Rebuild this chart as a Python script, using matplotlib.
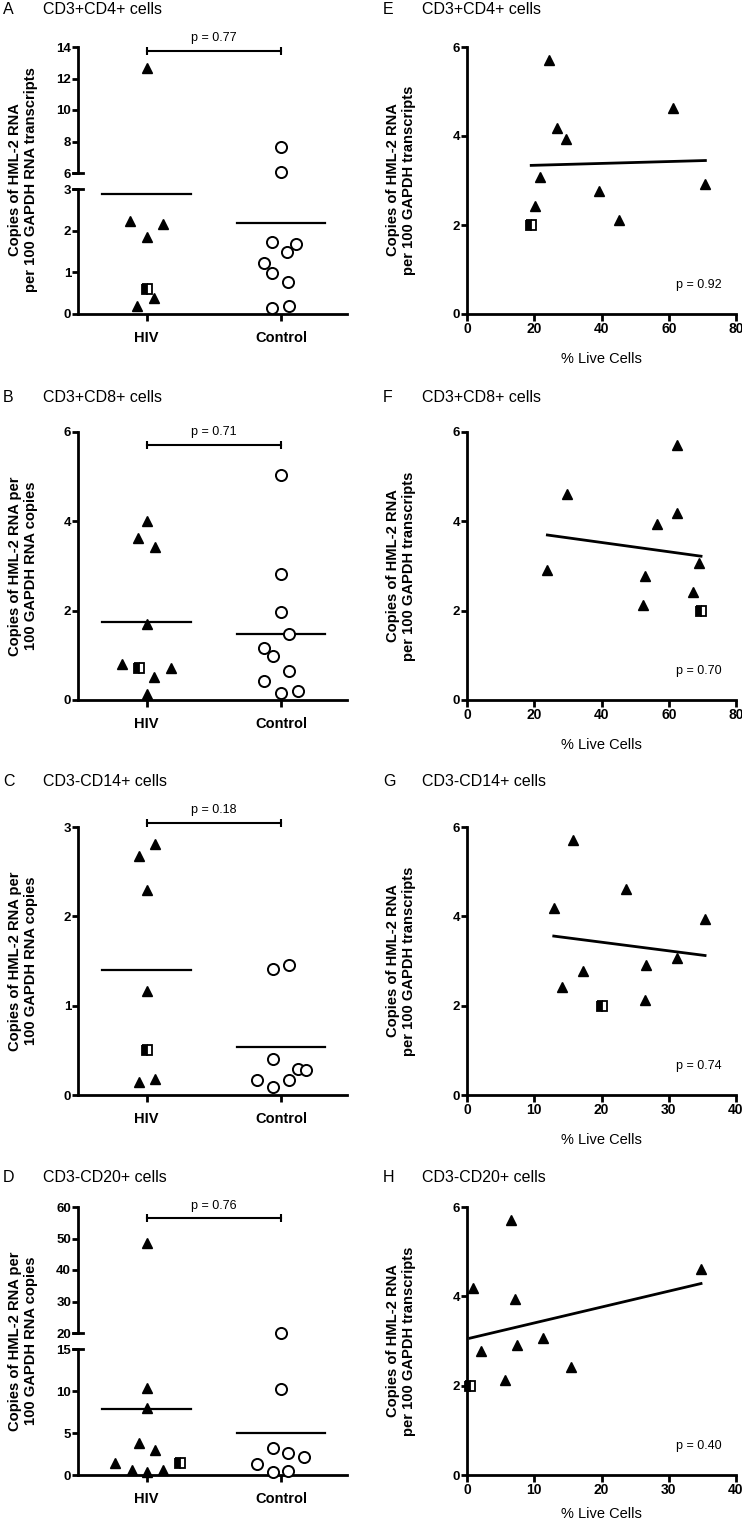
import numpy as np
import matplotlib
matplotlib.use('Agg')
import matplotlib.pyplot as plt

plt.rcParams['font.family'] = ['Liberation Sans', 'DejaVu Sans']
plt.rcParams['font.weight'] = 'bold'

# ---- data: dot plots (HIV vs Control), x offsets are the jitter
groups = ['HIV', 'Control']

a_hiv = [12.67, 2.24, 2.16, 1.86, 0.19, 0.38]
a_hiv_dx = [0, -0.12, 0.12, 0, -0.07, 0.055]
a_sq = [0.61]
a_sq_dx = [0]
a_ctl = [7.68, 6.08, 1.74, 1.68, 1.48, 1.23, 0.98, 0.76, 0.14, 0.19]
a_ctl_dx = [0, 0, -0.067, 0.11, 0.047, -0.13, -0.067, 0.052, -0.067, 0.057]

b_hiv = [4.0, 3.63, 3.43, 1.71, 0.80, 0.72, 0.52, 0.13]
b_hiv_dx = [0, -0.062, 0.062, 0, -0.18, 0.18, 0.057, 0]
b_sq = [0.72]
b_sq_dx = [-0.055]
b_ctl = [5.04, 2.82, 1.96, 1.47, 1.17, 0.98, 0.66, 0.43, 0.15, 0.20]
b_ctl_dx = [0, 0, 0, 0.062, -0.124, -0.062, 0.062, -0.124, 0, 0.124]

c_hiv = [2.81, 2.68, 2.30, 1.16, 0.14, 0.18]
c_hiv_dx = [0.065, -0.06, 0.003, 0.003, -0.06, 0.065]
c_sq = [0.50]
c_sq_dx = [0.003]
c_ctl = [1.41, 1.45, 0.40, 0.29, 0.28, 0.17, 0.17, 0.09]
c_ctl_dx = [-0.057, 0.062, -0.057, 0.122, 0.184, -0.181, 0.06, -0.057]

d_hiv = [48.5, 10.3, 7.94, 3.85, 2.98, 1.47, 0.6, 0.4, 0.6]
d_hiv_dx = [0, 0, 0, -0.057, 0.062, -0.235, -0.111, 0, 0.123]
d_sq = [1.47]
d_sq_dx = [0.25]
d_ctl = [20.0, 10.2, 3.17, 2.58, 2.18, 1.31, 0.32, 0.52]
d_ctl_dx = [0, 0, -0.062, 0.054, 0.173, -0.18, -0.062, 0.054]

bracket_y = [13.75, 5.72, 3.05, 56.4]
p_left = ['p = 0.77', 'p = 0.71', 'p = 0.18', 'p = 0.76']

# ---- data: scatter plots vs % live cells (same HML-2 values in every panel, last one is the square)
hml2 = [5.71, 4.62, 4.18, 3.94, 3.07, 2.92, 2.77, 2.42, 2.12, 2.0]
e_live = [24.4, 61.2, 26.7, 29.5, 21.6, 70.9, 39.4, 20.2, 45.3, 19.1]
f_live = [62.6, 29.8, 62.6, 56.4, 68.9, 23.9, 53.0, 67.1, 52.2, 69.6]
g_live = [15.7, 23.7, 12.9, 35.4, 31.3, 26.6, 17.3, 14.2, 26.5, 20.1]
h_live = [6.6, 34.8, 0.85, 7.2, 11.3, 7.4, 2.1, 15.5, 5.7, 0.45]
p_right = ['p = 0.92', 'p = 0.70', 'p = 0.74', 'p = 0.40']

letters_l = ['A', 'B', 'C', 'D']
letters_r = ['E', 'F', 'G', 'H']
cells = ['CD3+CD4+ cells', 'CD3+CD8+ cells', 'CD3-CD14+ cells', 'CD3-CD20+ cells']

ylab_a = 'Copies of HML-2 RNA\nper 100 GAPDH RNA transcripts'
ylab_bcd = 'Copies of HML-2 RNA per\n100 GAPDH RNA copies'
ylab_r = 'Copies of HML-2 RNA\nper 100 GAPDH transcripts'

W, H = 742, 1522
fig = plt.figure(figsize=(W / 100, H / 100), dpi=100)


def add_ax(l, r, t, b):
    return fig.add_axes([l / W, 1 - b / H, (r - l) / W, (b - t) / H])


def base_style(ax):
    for s in ['top', 'right']:
        ax.spines[s].set_visible(False)
    for s in ['left', 'bottom']:
        ax.spines[s].set_linewidth(2)
    ax.tick_params(width=2, length=4, pad=1)
    ax.tick_params(axis='y', labelsize=9.5)
    ax.patch.set_alpha(0)


def dots(ax, lo, hi, hiv, hiv_dx, sq, sq_dx, ctl, ctl_dx):
    hiv, hiv_dx = np.array(hiv), np.array(hiv_dx)
    sq, sq_dx = np.array(sq), np.array(sq_dx)
    ctl, ctl_dx = np.array(ctl), np.array(ctl_dx)
    m = (hiv >= lo) & (hiv <= hi)
    ax.plot(0 + hiv_dx[m], hiv[m], '^', ms=7.5, color='k', clip_on=False, zorder=3)
    m = (sq >= lo) & (sq <= hi)
    ax.plot(0 + sq_dx[m], sq[m], 's', ms=7.5, color='k', fillstyle='left',
            markerfacecoloralt='white', mew=1.3, clip_on=False, zorder=3)
    m = (ctl >= lo) & (ctl <= hi)
    ax.plot(1 + ctl_dx[m], ctl[m], 'o', ms=8, mfc='white', mec='k', mew=1.4,
            clip_on=False, zorder=3)
    # group means (triangles and square together)
    means = [np.mean(np.concatenate([hiv, sq])), np.mean(ctl)]
    for i, mv in enumerate(means):
        if lo <= mv <= hi:
            ax.plot([i - 0.33, i + 0.33], [mv, mv], color='k', lw=1.6, zorder=2)


def bracket(ax, y, txt):
    ax.plot([0, 1], [y, y], color='k', lw=1.5, clip_on=False)
    ax.plot([0, 1], [y, y], '|', color='k', ms=6, mew=1.5, clip_on=False)
    ax.annotate(txt, (0.5, y), xytext=(0, 9), textcoords='offset points',
                ha='center', va='center', fontsize=9, fontweight='normal',
                annotation_clip=False)


def break_mark(ax, y):
    tr = ax.get_yaxis_transform()
    ax.plot([-0.018, 0.018], [y, y], color='k', lw=2, transform=tr, clip_on=False)


def xcat(ax):
    ax.set_xlim(-0.51, 1.49)
    ax.set_xticks([0, 1])
    ax.set_xticklabels(groups)
    ax.tick_params(axis='x', labelsize=10.5, pad=7, length=5)


# ---- left column
dot_data = [(a_hiv, a_hiv_dx, a_sq, a_sq_dx, a_ctl, a_ctl_dx),
            (b_hiv, b_hiv_dx, b_sq, b_sq_dx, b_ctl, b_ctl_dx),
            (c_hiv, c_hiv_dx, c_sq, c_sq_dx, c_ctl, c_ctl_dx),
            (d_hiv, d_hiv_dx, d_sq, d_sq_dx, d_ctl, d_ctl_dx)]

# A: broken axis 0-3 / 6-14
lo = add_ax(78, 347, 189, 314)
up = add_ax(78, 347, 47, 173)
for ax in (lo, up):
    base_style(ax)
    xcat(ax)
lo.set_ylim(0, 3)
lo.set_yticks([0, 1, 2, 3])
up.set_ylim(6, 14)
up.set_yticks([6, 8, 10, 12, 14])
up.spines['bottom'].set_visible(False)
up.tick_params(axis='x', bottom=False, labelbottom=False)
dots(lo, 0, 3, *dot_data[0])
dots(up, 3.0001, 14, *dot_data[0])
break_mark(lo, 3)
break_mark(up, 6)
bracket(up, bracket_y[0], p_left[0])

# B
ax = add_ax(78, 347, 432, 700)
base_style(ax)
xcat(ax)
ax.set_ylim(0, 6)
ax.set_yticks([0, 2, 4, 6])
dots(ax, 0, 6, *dot_data[1])
bracket(ax, bracket_y[1], p_left[1])

# C
ax = add_ax(78, 347, 827, 1095)
base_style(ax)
xcat(ax)
ax.set_ylim(0, 3)
ax.set_yticks([0, 1, 2, 3])
dots(ax, 0, 3, *dot_data[2])
bracket(ax, bracket_y[2], p_left[2])

# D: broken axis 0-15 / 20-60
lo = add_ax(78, 347, 1349, 1475)
up = add_ax(78, 347, 1207, 1333)
for ax in (lo, up):
    base_style(ax)
    xcat(ax)
lo.set_ylim(0, 15)
lo.set_yticks([0, 5, 10, 15])
up.set_ylim(20, 60)
up.set_yticks([20, 30, 40, 50, 60])
up.spines['bottom'].set_visible(False)
up.tick_params(axis='x', bottom=False, labelbottom=False)
dots(lo, 0, 15, *dot_data[3])
dots(up, 15.0001, 60, *dot_data[3])
break_mark(lo, 15)
break_mark(up, 20)
bracket(up, bracket_y[3], p_left[3])

# ---- right column
live = [e_live, f_live, g_live, h_live]
xmax = [80, 80, 40, 40]
rows = [(47, 314), (432, 700), (827, 1095), (1207, 1475)]
for i in range(4):
    t, b = rows[i]
    ax = add_ax(467, 736, t, b)
    base_style(ax)
    x = np.array(live[i])
    y = np.array(hml2)
    ax.plot(x[:-1], y[:-1], '^', ms=7.5, color='k', clip_on=False, zorder=3)
    ax.plot(x[-1:], y[-1:], 's', ms=7.5, color='k', fillstyle='left',
            markerfacecoloralt='white', mew=1.3, clip_on=False, zorder=3)
    k, c0 = np.polyfit(x, y, 1)
    xs = np.array([x.min(), x.max()])
    ax.plot(xs, k * xs + c0, color='k', lw=2)
    ax.set_xlim(0, xmax[i])
    ax.set_xticks(np.linspace(0, xmax[i], 5))
    ax.set_ylim(0, 6)
    ax.set_yticks([0, 2, 4, 6])
    ax.tick_params(axis='x', labelsize=10, length=5)
    ax.set_xlabel('% Live Cells', fontsize=10.5, labelpad=(11 if i < 3 else 7))
    ax.text(0.86, 0.11, p_right[i], transform=ax.transAxes, ha='center',
            va='center', fontsize=9, fontweight='normal')

# ---- titles and y labels
title_y = [10, 397, 782, 1177]
mid_y = [180, 566, 961, 1341]
for i in range(4):
    ty = 1 - title_y[i] / H
    fig.text(3 / W, ty, letters_l[i], fontsize=11.5, fontweight='normal', va='center')
    fig.text(43 / W, ty, cells[i], fontsize=11.5, fontweight='normal', va='center')
    fig.text(383 / W, ty, letters_r[i], fontsize=11.5, fontweight='normal', va='center')
    fig.text(422 / W, ty, cells[i], fontsize=11.5, fontweight='normal', va='center')
    yl = ylab_a if i == 0 else ylab_bcd
    fig.text(23 / W, 1 - mid_y[i] / H, yl, rotation=90, ha='center', va='center',
             fontsize=10.6, multialignment='center', linespacing=1.2)
    fig.text(401 / W, 1 - mid_y[i] / H, ylab_r, rotation=90, ha='center', va='center',
             fontsize=10.6, multialignment='center', linespacing=1.2)

fig.savefig('out.png', dpi=100)
